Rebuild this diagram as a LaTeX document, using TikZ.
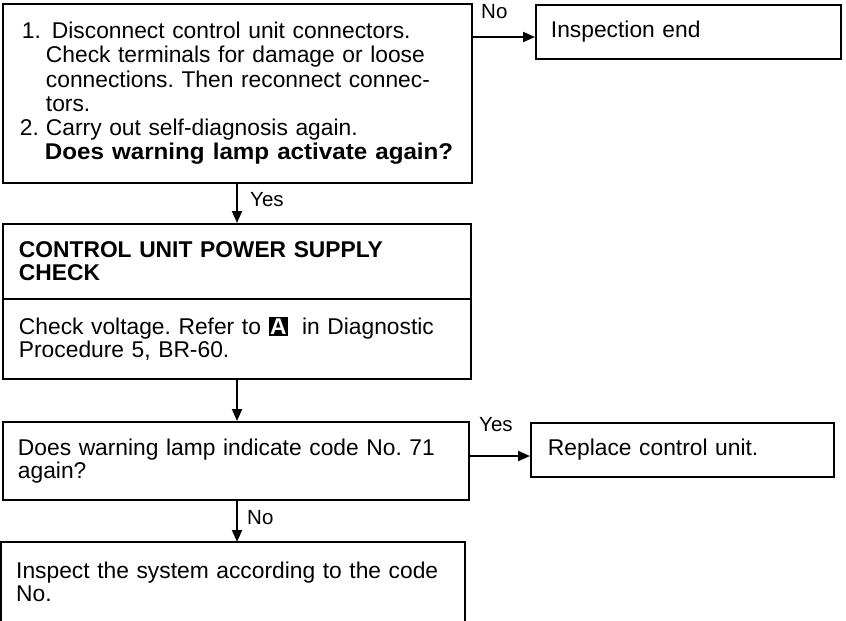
\documentclass[tikz,border=0pt]{standalone}
\usepackage{fontspec}
\setmainfont{Liberation Sans}
\usetikzlibrary{arrows.meta}
\begin{document}
\frenchspacing
\begin{tikzpicture}[x=1pt,y=-1pt,
  box/.style={draw, line width=1.9pt, anchor=north west, align=left, inner ysep=0pt,
     font=\frenchspacing\fontsize{22.8}{23.2}\selectfont},
  plain/.style={anchor=north west, align=left, inner ysep=0pt,
     font=\frenchspacing\fontsize{22.8}{23.2}\selectfont},
  lbl/.style={anchor=base west, inner sep=0pt, font=\fontsize{20.5}{22}\selectfont},
  arr/.style={line width=1.9pt, -{Triangle[length=12pt,width=10pt]}}]
\useasboundingbox (0,0) rectangle (846,621);

\node[box, minimum width=469pt, minimum height=179pt, inner xsep=17pt, text width=435pt,
      font=\frenchspacing\fontsize{22.8}{24.2}\selectfont] (b1) at (2,3)
 {\makebox[32pt][l]{\hspace*{2pt}1.}Disconnect control unit connectors.\\
  \hspace*{26pt}Check terminals for damage or loose\\
  \hspace*{26pt}connections. Then reconnect connec-\\
  \hspace*{26pt}tors.\\
  \makebox[26pt][l]{2.}Carry out self-diagnosis again.\\
  \hspace*{25pt}\scalebox{1.06}[1]{\textbf{Does warning lamp activate again?}}};

\node[box, minimum width=305pt, minimum height=54pt, inner xsep=15pt, text width=275pt] (ie) at (535,4)
 {Inspection end};

\node[box, minimum width=468pt, minimum height=75pt, inner xsep=16pt, text width=436pt] (b2h) at (2,223)
 {\textbf{CONTROL UNIT POWER SUPPLY}\\ \textbf{CHECK}};
\node[box, minimum width=468pt, minimum height=80pt, inner xsep=16pt, text width=436pt] (b2b) at (2,298)
 {Check voltage. Refer to {\setlength{\fboxsep}{1.5pt}\colorbox{black}{\color{white}\bfseries A}}\hspace{14pt}in Diagnostic\\
  Procedure 5, BR-60.};

\node[box, minimum width=466pt, minimum height=78pt, inner xsep=15pt, text width=436pt] (b3) at (2,421)
 {Does warning lamp indicate code No. 71\\ again?};

\node[box, minimum width=303pt, minimum height=54pt, inner xsep=17pt, text width=269pt] (rc) at (530,422)
 {Replace control unit.};

\node[plain, minimum width=464pt, minimum height=79pt, inner xsep=15pt, text width=434pt] (b4) at (1,542)
 {Inspect the system according to the code\\ No.\\[6pt]};
\draw[line width=1.9pt] (b4.south west) -- (b4.north west) -- (b4.north east) -- (b4.south east);

\coordinate (vx) at (237,0);
\coordinate (h1) at (0,37);
\coordinate (h2) at (0,456);

\draw[arr] (b1.south -| vx) -- (b2h.north -| vx);
\draw[arr] (b2b.south -| vx) -- (b3.north -| vx);
\draw[arr] (b3.south -| vx) -- (b4.north -| vx);
\draw[arr] (b1.east |- h1) -- (ie.west |- h1);
\draw[arr] (b3.east |- h2) -- (rc.west |- h2);

\node[lbl] (lno1) at (481,19) {No};
\node[lbl] (lyes1) at (250,206) {Yes};
\node[lbl] (lyes2) at (479,431) {Yes};
\node[lbl] (lno2) at (247,524) {No};
\end{tikzpicture}
\end{document}
